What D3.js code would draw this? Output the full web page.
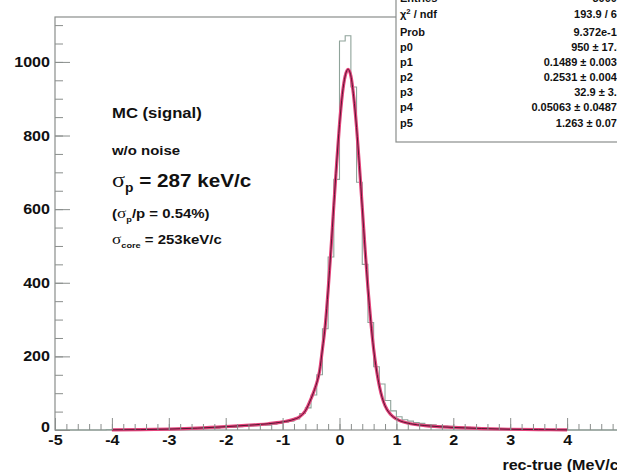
<!DOCTYPE html>
<html><head><meta charset="utf-8">
<script src="https://cdn.jsdelivr.net/npm/d3@7"></script>
<style>
html,body{margin:0;padding:0;background:#fff;overflow:hidden}
svg{display:block}
text{font-family:"Liberation Sans",Arial,sans-serif;font-weight:bold;fill:#111}
</style></head>
<body>
<svg id="c" width="617" height="472"></svg>
<script>
// ---- data ----
const binLow = -5, binWidth = 0.1;
// histogram counts, bins from -5.0 to 5.0 (width 0.1)
const histCounts = [
  0,0,0,0,0,0,0,0,0,1,            // -5.0 .. -4.1
  0,1,0,1,1,2,1,1,2,2,            // -4.0 .. -3.1
  3,2,3,4,3,5,4,6,5,7,            // -3.0 .. -2.1
  8,7,9,10,11,12,14,13,16,18,     // -2.0 .. -1.1
  21,24,30,45,60,95,150,275,470,681, // -1.0 .. -0.1
  1057,1071,932,673,450,292,172,125,80,52, // 0.0 .. 0.9
  36,28,24,20,18,15,14,12,11,10,  // 1.0 .. 1.9
  9,8,7,6,5,5,4,3,3,2,            // 2.0 .. 2.9
  2,2,1,1,1,1,0,0,0,0,            // 3.0 .. 3.9
  0,0,0,0,0,0,0,0,0,0             // 4.0 .. 4.9
];
// fit curve
const fitX = [-4.0,-3.5,-3.0,-2.5,-2.0,-1.5,-1.25,-1.0,-0.8,-0.7,-0.6,-0.5,-0.45,-0.4,-0.35,-0.3,-0.25,-0.2,-0.15,-0.1,-0.05,0,0.05,0.1,0.15,0.2,0.25,0.3,0.35,0.4,0.45,0.5,0.55,0.6,0.65,0.7,0.75,0.8,0.9,1.0,1.25,1.5,2.0,2.5,3.0,3.5,4.0];
const fitY = [0.5,1,2.5,5,9,14,17,22,29,36,52,85,105,128,160,220,285,380,490,610,725,830,912,962,980,962,905,822,718,605,490,385,295,220,163,120,88,66,42,30,17,12,7,4,2,1,0.4];
const xTicks = [-5,-4,-3,-2,-1,0,1,2,3,4];
const yTicks = [0,200,400,600,800,1000];
const statLabels = ["Entries","χ2 / ndf","Prob","p0","p1","p2","p3","p4","p5"];
const statValues = ["30000","193.9 / 64","9.372e-15","950 ± 17.4","0.1489 ± 0.0035","0.2531 ± 0.0042","32.9 ± 3.1","0.05063 ± 0.04874","1.263 ± 0.071"];
const notes = ["MC (signal)","w/o noise"];

// ---- layout ----
const L=55, R=624, T=17, B=430, SX=1.15;
const svg = d3.select("#c");
const x = d3.scaleLinear().domain([-5,5]).range([L,R]);
const y = d3.scaleLinear().domain([0,1122]).range([B,T]);
const frameCol = "#8a8e8c";

// frame
svg.append("rect").attr("x",L).attr("y",T).attr("width",R-L).attr("height",B-T)
   .attr("fill","none").attr("stroke",frameCol).attr("stroke-width",1.2);

// histogram step line
const pts = [];
histCounts.forEach((c,i)=>{ const a=binLow+i*binWidth; pts.push([a,c]); pts.push([a+binWidth,c]); });
pts.unshift([binLow,0]); pts.push([binLow+histCounts.length*binWidth,0]);
svg.append("path").datum(pts)
  .attr("d", d3.line().x(d=>x(d[0])).y(d=>y(d[1])))
  .attr("fill","none").attr("stroke","#8fa39a").attr("stroke-width",1.1);

// fit curve
const fitData = fitX.map((v,i)=>[v,fitY[i]]);
const fl = d3.line().x(d=>x(d[0])).y(d=>y(d[1])).curve(d3.curveMonotoneX);
svg.append("path").datum(fitData).attr("d",fl).attr("fill","none").attr("stroke","#e4447c").attr("stroke-width",3.2);
svg.append("path").datum(fitData).attr("d",fl).attr("fill","none").attr("stroke","#5a1633").attr("stroke-width",1);

// x axis
const xMinor = d3.range(-5,5.0001,0.2).map(v=>+v.toFixed(1));
svg.append("g").attr("transform",`translate(0,${B})`)
  .call(d3.axisBottom(x).tickValues(xMinor).tickSize(-6).tickFormat(""))
  .call(g=>{g.select(".domain").remove(); g.selectAll("line").attr("stroke",frameCol);});
const gx = svg.append("g").attr("transform",`translate(0,${B})`)
  .call(d3.axisBottom(x).tickValues(xTicks).tickSize(-12).tickPadding(5).tickFormat(d=>String(d)))
  .call(g=>{g.select(".domain").remove(); g.selectAll("line").attr("stroke",frameCol);});
gx.selectAll("text").attr("font-size",14).attr("fill","#111").attr("transform",`scale(${SX},1)`);

// y axis
const yMinor = d3.range(0,1101,50);
svg.append("g").attr("transform",`translate(${L},0)`)
  .call(d3.axisLeft(y).tickValues(yMinor).tickSize(-8).tickFormat(""))
  .call(g=>{g.select(".domain").remove(); g.selectAll("line").attr("stroke",frameCol);});
const gy = svg.append("g").attr("transform",`translate(${L},0)`)
  .call(d3.axisLeft(y).tickValues(yTicks).tickSize(-15).tickPadding(5).tickFormat(d=>String(d)))
  .call(g=>{g.select(".domain").remove(); g.selectAll("line").attr("stroke",frameCol);});
gy.selectAll("text").attr("font-size",14).attr("fill","#111")
  .attr("x",-5/SX).attr("transform",`scale(${SX},1)`);
gy.selectAll(".tick").filter(d=>d===0).select("text").attr("dy","0.1em");

// x axis title
svg.append("text").attr("transform",`translate(${R},470) scale(${SX},1)`)
  .attr("text-anchor","end").attr("font-size",14).text("rec-true (MeV/c)");

// annotations
function txt(xp,yp,size){ return svg.append("text").attr("transform",`translate(${xp},${yp}) scale(${SX},1)`).attr("font-size",size); }
txt(112,118,14.5).text(notes[0]);
txt(112,155,13).text(notes[1]);
const t3 = txt(112,187,18);
t3.append("tspan").attr("font-family","Liberation Serif").attr("font-weight","normal").attr("font-size",21).text("σ");
t3.append("tspan").attr("font-size",12).attr("dy",5).text("p");
t3.append("tspan").attr("dy",-5).text(" = 287 keV/c");
const t4 = txt(112,218,13);
t4.append("tspan").text("(");
t4.append("tspan").attr("font-family","Liberation Serif").attr("font-weight","normal").attr("font-size",15).text("σ");
t4.append("tspan").attr("font-size",8).attr("dy",4).text("p");
t4.append("tspan").attr("dy",-4).text("/p = 0.54%)");
const t5 = txt(112,244,13);
t5.append("tspan").attr("font-family","Liberation Serif").attr("font-weight","normal").attr("font-size",15).text("σ");
t5.append("tspan").attr("font-size",8).attr("dy",4).text("core");
t5.append("tspan").attr("dy",-4).text(" = 253keV/c");

// stats box
svg.append("rect").attr("x",396).attr("y",-10).attr("width",260).attr("height",152)
  .attr("fill","#fff").attr("stroke",frameCol).attr("stroke-width",1.2);
const rowY = [2,17.5,35.5,50.5,65.5,80.5,95.5,110.5,126.5];
statLabels.forEach((s,i)=>{
  const t = svg.append("text").attr("transform",`translate(400,${rowY[i]}) scale(1.1,1)`).attr("font-size",10);
  if (s.startsWith("χ")) { t.append("tspan").text("χ"); t.append("tspan").attr("font-size",7).attr("dy",-4).text("2"); t.append("tspan").attr("dy",4).text(" / ndf"); }
  else t.text(s);
});
statValues.forEach((s,i)=>{
  svg.append("text").attr("transform",`translate(623,${rowY[i]}) scale(1.1,1)`).attr("font-size",10)
    .attr("text-anchor","end").text(s);
});
</script>
</body></html>
